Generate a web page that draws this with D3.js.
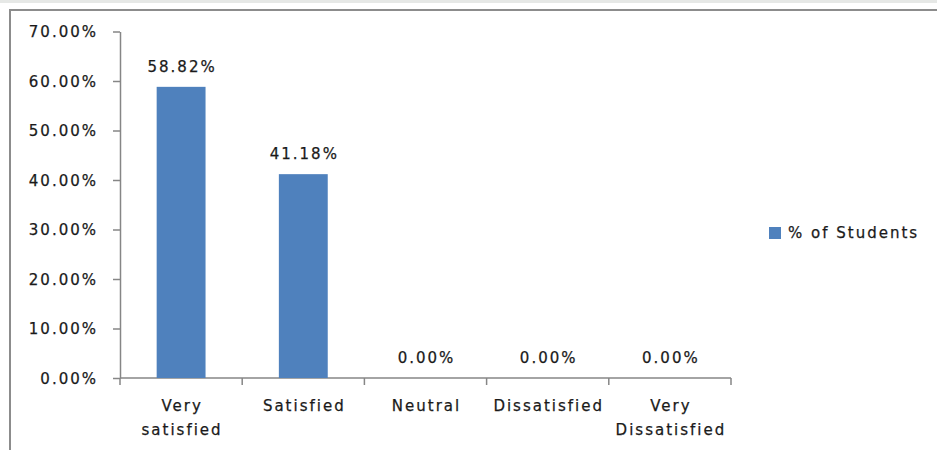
<!DOCTYPE html>
<html>
<head>
<meta charset="utf-8">
<script src="https://cdn.jsdelivr.net/npm/d3@7"></script>
<style>
  body { margin: 0; background: #fff; }
  text { font-family: "DejaVu Sans", sans-serif; fill: #1a1a1a; stroke: #1a1a1a; stroke-width: 0.25px;
         font-size: 15px; letter-spacing: 2px; }
</style>
</head>
<body>
<div id="chart"></div>
<script>
// data
const categories = ["Very satisfied", "Satisfied", "Neutral", "Dissatisfied", "Very Dissatisfied"];
const catLines = [["Very", "satisfied"], ["Satisfied"], ["Neutral"], ["Dissatisfied"], ["Very", "Dissatisfied"]];
const percentOfStudents = [58.82, 41.18, 0, 0, 0];
const yTicks = [0, 10, 20, 30, 40, 50, 60, 70];
const seriesName = "% of Students";

const W = 937, H = 450;
const svg = d3.select("#chart").append("svg")
  .attr("width", W).attr("height", H);

// strip of the cut-off outer frame at top
svg.append("rect").attr("x", 0).attr("y", 0).attr("width", W).attr("height", 3).attr("fill", "#e6e8e6");
// chart area border
svg.append("rect")
  .attr("x", 10).attr("y", 10).attr("width", W + 20).attr("height", H + 20)
  .attr("fill", "#fff").attr("stroke", "#8c8c8c").attr("stroke-width", 2);

const x = d3.scaleBand().domain(categories).range([120, 731]).paddingInner(0.6).paddingOuter(0.3);
const y = d3.scaleLinear().domain([0, 70]).range([378, 31.5]);

// y axis
const yAxis = d3.axisLeft(y).tickValues(yTicks).tickSize(7).tickSizeOuter(0)
  .tickFormat(d => d.toFixed(2) + "%");
const gy = svg.append("g").attr("transform", "translate(120,0)").call(yAxis);
gy.attr("font-family", null).attr("font-size", null);
gy.select(".domain").attr("stroke", "#868686").attr("stroke-width", 1.5);
gy.selectAll(".tick line").attr("stroke", "#868686").attr("stroke-width", 1.5);
gy.selectAll(".tick text").attr("x", -22).attr("dy", "0.35em").attr("fill", "#1a1a1a");

// x axis line + tick marks at band edges
const xEdges = categories.map(c => x(c) - x.step() * x.paddingInner() / 2).concat([731]);
svg.append("line").attr("x1", 120).attr("x2", 731).attr("y1", y(0)).attr("y2", y(0))
  .attr("stroke", "#868686").attr("stroke-width", 1.5);
svg.selectAll(".xtick").data(xEdges).enter().append("line")
  .attr("x1", d => d).attr("x2", d => d).attr("y1", y(0)).attr("y2", y(0) + 7)
  .attr("stroke", "#868686").attr("stroke-width", 1.5);

// bars
svg.selectAll(".bar").data(percentOfStudents).enter().append("rect")
  .attr("x", (d, i) => x(categories[i]))
  .attr("y", d => y(d))
  .attr("width", x.bandwidth())
  .attr("height", d => y(0) - y(d))
  .attr("fill", "#4f81bd");

// value labels
svg.selectAll(".val").data(percentOfStudents).enter().append("text")
  .attr("x", (d, i) => x(categories[i]) + x.bandwidth() / 2 + 1)
  .attr("y", d => y(d) - 20)
  .attr("dy", "0.35em")
  .attr("text-anchor", "middle")
  .text(d => d.toFixed(2) + "%");

// category labels
catLines.forEach((lines, i) => {
  const cx = x(categories[i]) + x.bandwidth() / 2 + 1;
  const t = svg.append("text")
    .attr("x", cx).attr("y", 406)
    .attr("text-anchor", "middle");
  lines.forEach((ln, j) => {
    t.append("tspan").attr("x", cx)
      .attr("dy", j === 0 ? "0.35em" : "24px").text(ln);
  });
});

// legend
svg.append("rect").attr("x", 769).attr("y", 227).attr("width", 12).attr("height", 12).attr("fill", "#4f81bd");
svg.append("text").attr("x", 788).attr("y", 233).attr("dy", "0.35em").text(seriesName);
</script>
</body>
</html>
